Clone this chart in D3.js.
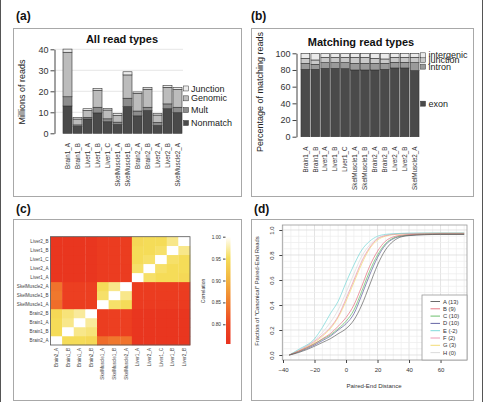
<!DOCTYPE html>
<html>
<head>
<meta charset="utf-8">
<script src="https://cdn.jsdelivr.net/npm/d3@7"></script>
<style>
  body { margin: 0; background: #fff; }
  svg { display: block; font-family: "Liberation Sans", Arial, sans-serif; }
</style>
</head>
<body>
<svg id="fig"></svg>
<script>
// ---- panel (a) / (b) data
const samples = ["Brain1_A","Brain1_B","Liver1_A","Liver1_B","Liver1_C","SkelMuscle1_A","SkelMuscle1_B","Brain2_A","Brain2_B","Liver2_A","Liver2_B","SkelMuscle2_A"];
const readTypes = ["Nonmatch","Mult","Genomic","Junction"];
const nonmatch = [13.0,3.3,6.8,9.7,5.5,4.2,12.7,8.3,10.8,3.7,11.7,9.8];
const mult     = [4.4,0.7,0.8,2.7,1.4,1.1,4.0,2.3,1.6,1.5,2.3,2.6];
const genomic  = [21.2,2.8,3.3,8.1,4.2,3.3,11.1,8.4,8.6,3.5,7.9,8.5];
const junction = [1.5,0.8,0.8,0.8,0.8,0.8,1.5,0.7,0.9,0.7,0.8,0.9];
const readTicks = [0,10,20,30,40];

const matchTypes = ["exon","intron","junction","intergenic"];
const exonPct       = [80.8,80.8,82.0,82.0,81.6,80.0,80.0,80.0,80.8,82.4,82.4,79.2];
const intronPct     = [7.2,6.0,6.8,6.8,7.2,8.0,8.0,8.0,7.2,6.8,6.8,9.6];
const junctionPct   = [6.0,5.2,6.4,6.4,6.4,7.2,7.2,6.0,5.2,6.0,6.0,6.4];
const intergenicPct = [6.0,8.0,4.8,4.8,4.8,4.8,4.8,6.0,6.8,4.8,4.8,4.8];
const pctTicks = [0,20,40,60,80,100];

// ---- panel (c) data: correlation matrix, order as the columns
const corrOrder = ["Brain2_A","Brain1_B","Brain1_A","Brain2_B","SkelMuscle1_A","SkelMuscle1_B","SkelMuscle2_A","Liver1_A","Liver2_A","Liver1_C","Liver1_B","Liver2_B"];
const corr = [
  [1.000,0.950,0.950,0.945,0.835,0.845,0.840,0.765,0.765,0.765,0.765,0.765],
  [0.950,1.000,0.965,0.960,0.780,0.785,0.785,0.765,0.765,0.765,0.765,0.765],
  [0.950,0.965,1.000,0.970,0.780,0.785,0.785,0.765,0.765,0.765,0.765,0.765],
  [0.945,0.960,0.970,1.000,0.780,0.785,0.785,0.765,0.765,0.765,0.765,0.765],
  [0.835,0.780,0.780,0.780,1.000,0.955,0.950,0.775,0.775,0.775,0.775,0.775],
  [0.845,0.785,0.785,0.785,0.955,1.000,0.965,0.778,0.778,0.778,0.778,0.778],
  [0.840,0.785,0.785,0.785,0.950,0.965,1.000,0.778,0.778,0.780,0.780,0.780],
  [0.765,0.765,0.765,0.765,0.775,0.778,0.778,1.000,0.955,0.950,0.950,0.945],
  [0.765,0.765,0.765,0.765,0.775,0.778,0.778,0.955,1.000,0.955,0.950,0.950],
  [0.765,0.765,0.765,0.765,0.775,0.778,0.780,0.950,0.955,1.000,0.955,0.950],
  [0.765,0.765,0.765,0.765,0.775,0.778,0.780,0.950,0.950,0.955,1.000,0.965],
  [0.765,0.765,0.765,0.765,0.775,0.778,0.780,0.945,0.950,0.950,0.965,1.000]
];
const corrTicks = [0.80,0.85,0.90,0.95,1.00];

// ---- panel (d) data
const distX = [-36,-30,-20,-15,-10,-5,0,5,10,15,20,25,30,35,40,50,60,75];
const curveNames = ["A (13)","B (9)","C (10)","D (10)","E (-2)","F (2)","G (3)","H (0)"];
const curveA = [0,.020,.070,.100,.130,.170,.210,.280,.400,.560,.720,.840,.910,.945,.955,.962,.965,.965];
const curveB = [0,.030,.090,.130,.170,.230,.300,.400,.550,.710,.830,.910,.945,.958,.963,.967,.969,.969];
const curveC = [0,.028,.090,.125,.160,.210,.270,.360,.510,.670,.800,.890,.935,.953,.960,.966,.968,.968];
const curveD = [0,.025,.080,.115,.150,.200,.250,.330,.480,.640,.780,.880,.930,.950,.958,.964,.966,.966];
const curveE = [0,.045,.130,.220,.330,.430,.580,.720,.840,.910,.950,.965,.970,.973,.975,.976,.976,.976];
const curveF = [0,.035,.110,.160,.220,.310,.450,.600,.750,.860,.930,.955,.965,.970,.972,.973,.974,.974];
const curveG = [0,.033,.100,.150,.210,.300,.430,.580,.730,.850,.920,.950,.963,.968,.971,.973,.974,.974];
const curveH = [0,.040,.120,.180,.260,.360,.500,.650,.790,.880,.935,.958,.968,.972,.974,.975,.975,.975];
const curveColors = ["#5a5a5a","#e36a78","#5cb85c","#55559a","#6fd6d6","#e98cab","#f2d868","#d8d8d8"];
const distTicks = [-40,-20,0,20,40,60];
const fracTicks = [0,0.2,0.4,0.6,0.8,1.0];

const W = 488, H = 402;
const svg = d3.select("#fig").attr("width", W).attr("height", H);

// outer frame lines
svg.append("line").attr("x1",0.5).attr("x2",0.5).attr("y1",0).attr("y2",H).attr("stroke","#555");
svg.append("line").attr("x1",482.5).attr("x2",482.5).attr("y1",0).attr("y2",H).attr("stroke","#555");

// panel boxes + letters
const boxes = [[13.5,28.5,228,168,"(a)",16,20],[251.5,28.5,222,168,"(b)",251,20],
               [13.5,219.5,228,181,"(c)",16,213],[251.5,219.5,222,181,"(d)",254,213]];
boxes.forEach(b => {
  svg.append("rect").attr("x",b[0]).attr("y",b[1]).attr("width",b[2]).attr("height",b[3])
    .attr("fill","none").attr("stroke","#a8a8a8");
  svg.append("text").attr("x",b[5]).attr("y",b[6]).text(b[4])
    .attr("font-size",12).attr("font-weight","bold").attr("fill","#111");
});

function styleAxis(g, fs) {
  g.selectAll("path, line").attr("stroke","#444");
  g.selectAll("text").attr("font-size",fs).attr("fill","#333").attr("font-family",null);
}

// ================= panel (a)
{
  const g = svg.append("g");
  const x = d3.scaleBand(samples,[62.5,182.5]).paddingInner(0.1).paddingOuter(0.05);
  const y = d3.scaleLinear([0,40],[133.3,49.3]);
  const fills = ["#4a4a4a","#8d8d8d","#bcbcbc","#ececec"];
  const rows = samples.map((s,i) => ({s, Nonmatch:nonmatch[i], Mult:mult[i], Genomic:genomic[i], Junction:junction[i]}));
  const stack = d3.stack().keys(readTypes)(rows);

  g.selectAll(".grid").data(readTicks.slice(1)).join("line")
    .attr("x1",55).attr("x2",183).attr("y1",d=>y(d)).attr("y2",d=>y(d))
    .attr("stroke","#e6e6e6");

  stack.forEach((layer,k) => {
    g.append("g").selectAll("rect").data(layer).join("rect")
      .attr("x",d=>x(d.data.s)).attr("width",x.bandwidth())
      .attr("y",d=>y(d[1])).attr("height",d=>y(d[0])-y(d[1]))
      .attr("fill",fills[k]).attr("stroke","#333").attr("stroke-width",0.6);
  });

  const ax = g.append("g").attr("transform","translate(54.5,0)")
    .call(d3.axisLeft(y).tickValues(readTicks).tickSize(4).tickSizeOuter(0).tickPadding(2));
  styleAxis(ax, 9);

  g.selectAll(".xl").data(samples).join("text")
    .attr("transform",d=>`translate(${x(d)+x.bandwidth()/2+2.2},143) rotate(-90)`)
    .attr("text-anchor","end").attr("font-size",6.3).attr("fill","#333").text(d=>d);

  g.append("text").attr("x",122).attr("y",43).attr("text-anchor","middle")
    .attr("font-size",11).attr("font-weight","bold").attr("fill","#111").text("All read types");
  g.append("text").attr("transform","translate(25,92) rotate(-90)").attr("text-anchor","middle")
    .attr("font-size",9).attr("fill","#222").text("Millions of reads");

  // legend placed at the segments of the last bar
  const last = stack.map(l => l[l.length-1]);
  readTypes.forEach((t,k) => {
    const ym = y((last[k][0]+last[k][1])/2);
    g.append("rect").attr("x",183.5).attr("y",ym-2.5).attr("width",5).attr("height",5)
      .attr("fill",fills[k]).attr("stroke","#333").attr("stroke-width",0.5);
    g.append("text").attr("x",191).attr("y",ym).attr("dy","0.35em")
      .attr("font-size",9).attr("fill","#222").text(t);
  });
}

// ================= panel (b)
{
  const g = svg.append("g");
  const x = d3.scaleBand(samples,[300.5,419.5]).paddingInner(0.12).paddingOuter(0.05);
  const y = d3.scaleLinear([0,100],[136.7,53.3]);
  const fills = ["#4a4a4a","#9a9a9a","#c9c9c9","#ebebeb"];
  const rows = samples.map((s,i) => ({s, exon:exonPct[i], intron:intronPct[i], junction:junctionPct[i], intergenic:intergenicPct[i]}));
  const stack = d3.stack().keys(matchTypes)(rows);

  stack.forEach((layer,k) => {
    g.append("g").selectAll("rect").data(layer).join("rect")
      .attr("x",d=>x(d.data.s)).attr("width",x.bandwidth())
      .attr("y",d=>y(d[1])).attr("height",d=>y(d[0])-y(d[1]))
      .attr("fill",fills[k]).attr("stroke","#333").attr("stroke-width",0.6);
  });

  const ax = g.append("g").attr("transform","translate(296.5,0)")
    .call(d3.axisLeft(y).tickValues(pctTicks).tickSize(4).tickSizeOuter(0).tickPadding(2));
  styleAxis(ax, 9);

  g.selectAll(".xl").data(samples).join("text")
    .attr("transform",d=>`translate(${x(d)+x.bandwidth()/2+2.2},146.5) rotate(-90)`)
    .attr("text-anchor","end").attr("font-size",6.3).attr("fill","#333").text(d=>d);

  g.append("text").attr("x",361).attr("y",46).attr("text-anchor","middle")
    .attr("font-size",11).attr("font-weight","bold").attr("fill","#111").text("Matching read types");
  g.append("text").attr("transform","translate(263,92) rotate(-90)").attr("text-anchor","middle")
    .attr("font-size",9).attr("fill","#222").text("Percentage of matching reads");

  // legend at the last bar's segments (labels crowd together, as in the original)
  const last = stack.map(l => l[l.length-1]);
  matchTypes.forEach((t,k) => {
    const ym = y((last[k][0]+last[k][1])/2);
    g.append("rect").attr("x",420.5).attr("y",ym-2.5).attr("width",5).attr("height",5)
      .attr("fill",fills[k]).attr("stroke","#333").attr("stroke-width",0.5);
    g.append("text").attr("x",428.5).attr("y",ym).attr("dy","0.35em")
      .attr("font-size",9).attr("fill","#222").text(t);
  });
}

// ================= panel (c)
{
  const g = svg.append("g");
  const x = d3.scaleBand(corrOrder,[50.5,190]);
  const y = d3.scaleBand(corrOrder.slice().reverse(),[236.7,345]);
  const color = d3.scaleLinear()
    .domain([0.755,0.80,0.85,0.90,0.95,1.0])
    .range(["#e8321e","#ee4622","#f07e2e","#f2b340","#f5dc58","#ffffff"]);

  const cells = [];
  corrOrder.forEach((r,i) => corrOrder.forEach((c,j) => cells.push({r,c,v:corr[i][j]})));
  g.selectAll("rect.cell").data(cells).join("rect")
    .attr("x",d=>x(d.c)).attr("y",d=>y(d.r))
    .attr("width",x.bandwidth()+0.3).attr("height",y.bandwidth()+0.3)
    .attr("fill",d=>color(d.v));
  g.append("rect").attr("x",50.5).attr("y",236.7).attr("width",139.5).attr("height",108.3)
    .attr("fill","none").attr("stroke","#555").attr("stroke-width",0.8);

  g.selectAll(".rl").data(corrOrder).join("text")
    .attr("x",48.5).attr("y",d=>y(d)+y.bandwidth()/2).attr("dy","0.35em")
    .attr("text-anchor","end").attr("font-size",4.6).attr("fill","#444").text(d=>d);
  g.selectAll(".cl").data(corrOrder).join("text")
    .attr("transform",d=>`translate(${x(d)+x.bandwidth()/2+1.6},348) rotate(-90)`)
    .attr("text-anchor","end").attr("font-size",4.6).attr("fill","#444").text(d=>d);

  // colour bar
  const cy = d3.scaleLinear([0.8,1.0],[324.3,236.7]);
  const grad = svg.append("defs").append("linearGradient").attr("id","cbar")
    .attr("x1",0).attr("x2",0).attr("y1",1).attr("y2",0);
  d3.range(0,1.0001,0.05).forEach(t => {
    const v = 0.755 + t*(1-0.755);
    grad.append("stop").attr("offset",t).attr("stop-color",color(v));
  });
  g.append("rect").attr("x",226).attr("y",cy(1)).attr("width",4.5).attr("height",cy(0.755)-cy(1))
    .attr("fill","url(#cbar)");
  const ax = g.append("g").attr("transform","translate(225.5,0)")
    .call(d3.axisLeft(cy).tickValues(corrTicks).tickFormat(d3.format(".2f")).tickSize(2.5).tickSizeOuter(0).tickPadding(2));
  ax.select(".domain").remove();
  styleAxis(ax, 4.8);
  g.append("text").attr("transform","translate(204.5,291) rotate(-90)").attr("text-anchor","middle")
    .attr("font-size",5).attr("fill","#333").text("Correlation");
}

// ================= panel (d)
{
  const g = svg.append("g");
  const x = d3.scaleLinear([-40.45,76.8],[282.3,467]);
  const y = d3.scaleLinear([0,1],[355,230]);
  const left = 282.3, right = 467, top = 225, bottom = 360;

  g.append("rect").attr("x",left).attr("y",top).attr("width",right-left).attr("height",bottom-top).attr("fill","#fff");
  d3.range(-40,77,5).forEach(v => {
    g.append("line").attr("x1",x(v)).attr("x2",x(v)).attr("y1",top).attr("y2",bottom)
      .attr("stroke", v%20===0 ? "#d8d8d8" : "#ececec").attr("stroke-width",0.7);
  });
  d3.range(0,1.0001,0.05).forEach(v => {
    const major = Math.abs(v*5 - Math.round(v*5)) < 1e-6;
    g.append("line").attr("x1",left).attr("x2",right).attr("y1",y(v)).attr("y2",y(v))
      .attr("stroke", major ? "#d8d8d8" : "#ececec").attr("stroke-width",0.7);
  });

  const series = [curveA,curveB,curveC,curveD,curveE,curveF,curveG,curveH];
  const line = d3.line().x((d,i)=>x(distX[i])).y(d=>y(d)).curve(d3.curveMonotoneX);
  series.slice().reverse().forEach((s,k) => {
    const idx = series.length-1-k;
    g.append("path").datum(s).attr("d",line).attr("fill","none")
      .attr("stroke",curveColors[idx]).attr("stroke-width",0.8).attr("opacity",0.85);
  });

  g.append("rect").attr("x",left).attr("y",top).attr("width",right-left).attr("height",bottom-top)
    .attr("fill","none").attr("stroke","#999").attr("stroke-width",0.8);

  const ax = g.append("g").attr("transform",`translate(0,${bottom})`)
    .call(d3.axisBottom(x).tickValues(distTicks).tickSize(3).tickPadding(5));
  ax.select(".domain").remove();
  styleAxis(ax, 6);

  const ay = g.append("g").attr("transform",`translate(${left},0)`)
    .call(d3.axisLeft(y).tickValues(fracTicks).tickFormat(d3.format(".1f")).tickSize(3));
  ay.select(".domain").remove();
  styleAxis(ay, 6);
  ay.selectAll(".tick text").attr("text-anchor","middle").attr("dy",null).attr("x",0).attr("y",0)
    .attr("transform","translate(-8,0) rotate(-90)");

  g.append("text").attr("x",374).attr("y",388).attr("text-anchor","middle")
    .attr("font-size",6).attr("fill","#333").text("Paired-End Distance");
  g.append("text").attr("transform","translate(258.5,291) rotate(-90)").attr("text-anchor","middle")
    .attr("font-size",5.9).attr("fill","#333").text('Fraction of "Canonical" Paired-End Reads');

  // legend
  const lg = g.append("g");
  lg.append("rect").attr("x",422).attr("y",295).attr("width",right-422).attr("height",bottom-295)
    .attr("fill","#fff").attr("stroke","#999").attr("stroke-width",0.8);
  curveNames.forEach((n,i) => {
    const yy = 301.5 + i*7.3;
    lg.append("line").attr("x1",430.5).attr("x2",440).attr("y1",yy).attr("y2",yy)
      .attr("stroke",curveColors[i]).attr("stroke-width",0.9);
    lg.append("text").attr("x",443).attr("y",yy).attr("dy","0.35em")
      .attr("font-size",5.8).attr("fill","#333").text(n);
  });
}
</script>
</body>
</html>
